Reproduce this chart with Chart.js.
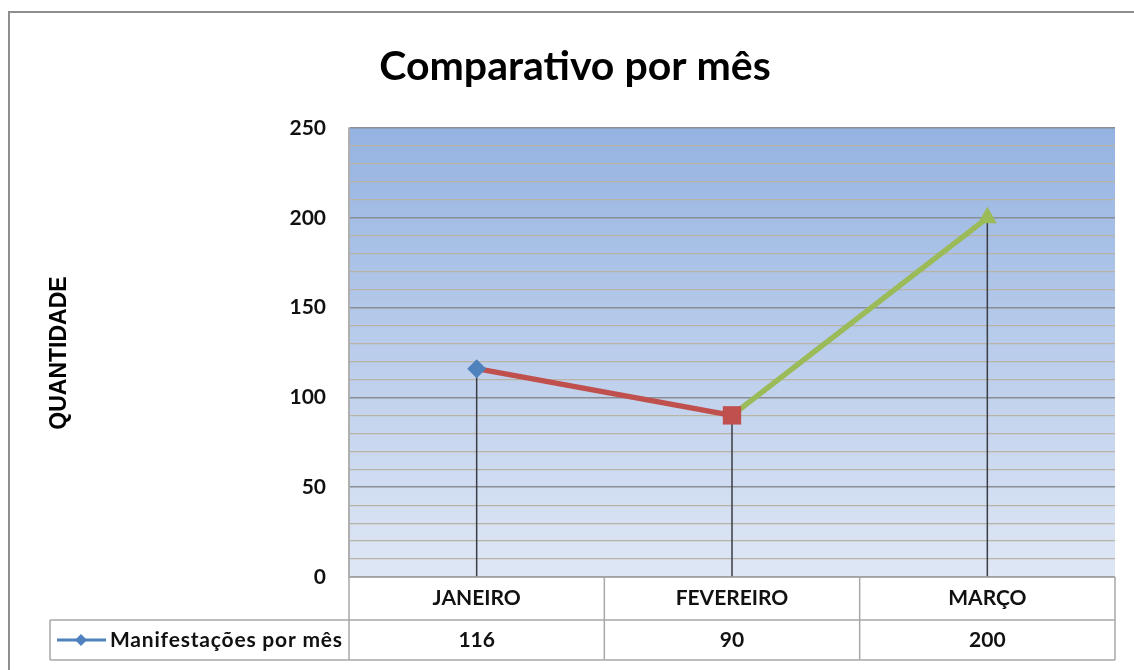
<!DOCTYPE html>
<html>
<head>
<meta charset="utf-8">
<script src="https://cdn.jsdelivr.net/npm/chart.js@4"></script>
<style>
  html, body { margin: 0; padding: 0; background: #fff; }
  #wrap { width: 1134px; height: 670px; position: relative; }
</style>
</head>
<body>
<div id="wrap"><canvas id="comparativoChart" width="1134" height="670"></canvas></div>
<script>
// data
const categories = ['JANEIRO', 'FEVEREIRO', 'MARÇO'];
const values = [116, 90, 200];
const seriesName = 'Manifestações por mês';
const yTickLabels = [0, 50, 100, 150, 200, 250];
const chartTitle = 'Comparativo por mês';
const yAxisTitle = 'QUANTIDADE';

// styles
const pointColors = ['#4f81bd', '#c0504d', '#9bbb59'];
const pointShapes = ['rectRot', 'rect', 'triangle'];
const pointSizes = [9.5, 13, 11];
const segmentColors = ['#c0504d', '#9bbb59'];
const tableLine = '#a8a8a8';
const textFont = 'Lato, "Open Sans", sans-serif';

const plotBackground = {
    id: 'plotBackground',
    beforeDraw(chart) {
        const { ctx, chartArea: a } = chart;
        ctx.save();
        // outer frame
        ctx.strokeStyle = '#8e8e8e';
        ctx.lineWidth = 2;
        ctx.strokeRect(9, 12, 1300, 800);
        const g = ctx.createLinearGradient(0, a.top, 0, a.bottom);
        g.addColorStop(0, '#95b3e1');
        g.addColorStop(1, '#dfe7f5');
        ctx.fillStyle = g;
        ctx.fillRect(a.left, a.top, a.right - a.left, a.bottom - a.top);
        ctx.restore();
    }
};

const dropLines = {
    id: 'dropLines',
    beforeDatasetsDraw(chart) {
        const { ctx, chartArea: a } = chart;
        const meta = chart.getDatasetMeta(0);
        ctx.save();
        ctx.strokeStyle = '#3a3d44';
        ctx.lineWidth = 1.5;
        meta.data.forEach(pt => {
            ctx.beginPath();
            ctx.moveTo(pt.x, pt.y);
            ctx.lineTo(pt.x, a.bottom);
            ctx.stroke();
        });
        ctx.restore();
    }
};

const dataTable = {
    id: 'dataTable',
    afterDraw(chart) {
        const { ctx, chartArea: a } = chart;
        const x = chart.scales.x;
        const colW = (a.right - a.left) / categories.length;
        const row1 = a.bottom, row2 = a.bottom + 43, row3 = a.bottom + 83;
        const legendLeft = 50;
        ctx.save();

        // title
        ctx.fillStyle = '#000';
        ctx.textAlign = 'center';
        ctx.textBaseline = 'middle';
        ctx.font = 'bold 41px ' + textFont;
        ctx.fillText(chartTitle, 575, 67);

        // y axis title
        ctx.save();
        ctx.translate(60, 353);
        ctx.rotate(-Math.PI / 2);
        ctx.font = 'bold 23px "Liberation Sans", Arial, sans-serif';
        ctx.fillText(yAxisTitle, 0, 0);
        ctx.restore();

        // table grid
        ctx.strokeStyle = tableLine;
        ctx.lineWidth = 1.5;
        ctx.beginPath();
        ctx.moveTo(a.left, row1); ctx.lineTo(a.right, row1);
        ctx.moveTo(legendLeft, row2); ctx.lineTo(a.right, row2);
        ctx.moveTo(legendLeft, row3); ctx.lineTo(a.right, row3);
        ctx.moveTo(legendLeft, row2); ctx.lineTo(legendLeft, row3);
        for (let i = 0; i <= categories.length; i++) {
            const cx = a.left + i * colW;
            ctx.moveTo(cx, i === 0 ? a.top : row1);
            ctx.lineTo(cx, row3);
        }
        ctx.stroke();

        // legend key
        ctx.strokeStyle = pointColors[0];
        ctx.lineWidth = 3;
        ctx.beginPath();
        ctx.moveTo(57, (row2 + row3) / 2);
        ctx.lineTo(106, (row2 + row3) / 2);
        ctx.stroke();
        ctx.fillStyle = pointColors[0];
        ctx.beginPath();
        const kx = 81, ky = (row2 + row3) / 2;
        ctx.moveTo(kx - 6, ky); ctx.lineTo(kx, ky - 6); ctx.lineTo(kx + 6, ky); ctx.lineTo(kx, ky + 6);
        ctx.closePath();
        ctx.fill();

        ctx.fillStyle = '#111';
        ctx.font = 'bold 21px ' + textFont;
        ctx.textAlign = 'left';
        ctx.letterSpacing = '0.8px';
        ctx.fillText(seriesName, 110, (row2 + row3) / 2);
        ctx.letterSpacing = '0px';

        ctx.textAlign = 'center';
        categories.forEach((c, i) => {
            const cx = x.getPixelForValue(i);
            ctx.fillText(c, cx, (row1 + row2) / 2);
            ctx.fillText(String(values[i]), cx, (row2 + row3) / 2);
        });
        ctx.restore();
    }
};

const ctx = document.getElementById('comparativoChart').getContext('2d');
const comparativoChart = new Chart(ctx, {
    type: 'line',
    data: {
        labels: categories,
        datasets: [{
            label: seriesName,
            data: values,
            borderWidth: 5.5,
            borderColor: pointColors[0],
            segment: {
                borderColor: c => segmentColors[c.p0DataIndex]
            },
            pointStyle: pointShapes,
            pointRadius: pointSizes,
            pointBackgroundColor: pointColors,
            pointBorderColor: pointColors,
            pointBorderWidth: 0,
            tension: 0,
            fill: false
        }]
    },
    options: {
        responsive: false,
        animation: false,
        layout: { padding: { left: 250, right: 19, top: 128, bottom: 93 } },
        plugins: {
            legend: { display: false },
            tooltip: { enabled: false },
            title: { display: false }
        },
        scales: {
            x: {
                display: false,
                offset: true
            },
            y: {
                min: 0,
                max: 250,
                afterFit(s) { s.width = 99; },
                border: { display: true, color: '#c4c4c4', width: 2 },
                grid: {
                    drawTicks: false,
                    lineWidth: c => (c.tick && c.tick.value % 50 === 0) ? 1.5 : 1.2,
                    color: c => (c.tick && c.tick.value % 50 === 0) ? '#8a8d94' : '#b9b3a6'
                },
                ticks: {
                    stepSize: 10,
                    autoSkip: false,
                    padding: 23,
                    color: '#111',
                    font: { family: textFont, size: 21, weight: 'bold' },
                    callback: v => yTickLabels.includes(v) ? v : ''
                }
            }
        }
    },
    plugins: [plotBackground, dropLines, dataTable]
});
</script>
</body>
</html>
